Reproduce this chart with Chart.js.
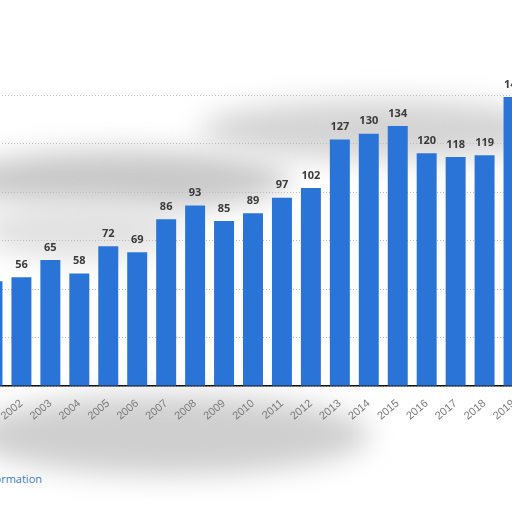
<!DOCTYPE html>
<html>
<head>
<meta charset="utf-8">
<script src="https://cdn.jsdelivr.net/npm/chart.js@4/dist/chart.umd.min.js"></script>
<style>
  html, body { margin: 0; padding: 0; width: 512px; height: 512px; overflow: hidden; background: #fff; font-family: "Open Sans", "DejaVu Sans", sans-serif; }
  .smudge { position: absolute; filter: blur(14px); border-radius: 50%; }
  .wrap { position: absolute; left: -52.5px; top: 0; width: 580px; height: 426px; }
  .info { position: absolute; right: 470px; top: 471px; font-size: 11px; color: #3b7bbf; white-space: nowrap; }
</style>
</head>
<body>
<!-- grey background smudges -->
<div class="smudge" style="left:-40px;top:150px;width:330px;height:60px;background:#c9c9c9;"></div>
<div class="smudge" style="left:200px;top:100px;width:360px;height:60px;background:#d4d4d4;"></div>
<div class="smudge" style="left:-30px;top:395px;width:400px;height:80px;background:#cfcfcf;"></div>
<div class="smudge" style="left:-20px;top:200px;width:200px;height:60px;background:#e2e2e2;"></div>

<div class="wrap"><canvas id="myChart"></canvas></div>
<div class="info">Additional Information</div>

<script>
// Chart data

const years = ["2001", "2002", "2003", "2004", "2005", "2006", "2007", "2008", "2009", "2010",
  "2011", "2012", "2013", "2014", "2015", "2016", "2017", "2018", "2019"];
const values = [54, 56, 65, 58, 72, 69, 86, 93, 85, 89, 97, 102, 127, 130, 134, 120, 118, 119, 149];
const gridStep = 25;

// value labels on top of the bars
const barLabels = {
  id: 'barLabels',
  afterDatasetsDraw(chart) {
    const ctx = chart.ctx;
    const meta = chart.getDatasetMeta(0);
    ctx.save();
    ctx.font = 'bold 11px "Open Sans", "DejaVu Sans", sans-serif';
    ctx.fillStyle = '#3a3a3a';
    ctx.textAlign = 'center';
    ctx.textBaseline = 'bottom';
    meta.data.forEach((bar, i) => {
      ctx.fillText(values[i], bar.x, bar.y - 7);
    });
    ctx.restore();
  }
};

const ctx = document.getElementById("myChart").getContext("2d");
const myChart = new Chart(ctx, {
  type: "bar",
  data: {
    labels: years,
    datasets: [{
      data: values,
      backgroundColor: '#2a74d8',
      borderWidth: 0,
      barPercentage: 0.69,
      categoryPercentage: 1,
    }],
  },
  options: {
    responsive: true,
    maintainAspectRatio: false,
    animation: false,
    layout: { padding: { top: 95, left: 30, right: 0, bottom: 0 } },
    plugins: { legend: { display: false }, tooltip: { enabled: false } },
    scales: {
      x: {
        afterFit: (s) => { s.height = 40; },
        grid: { display: false },
        border: { color: '#111', width: 1.5 },
        ticks: {
          color: '#7a7a7a',
          font: { size: 11 },
          minRotation: 40,
          maxRotation: 40,
          autoSkip: false,
        },
      },
      y: {
        min: 0,
        max: 150,
        afterFit: (s) => { s.width = 0; },
        border: { display: false, dash: [1, 2] },
        grid: { color: '#bdbdbd', lineWidth: 1, drawTicks: false },
        ticks: { display: false, stepSize: gridStep },
      },
    },
  },
  plugins: [barLabels],
});
</script>
</body>
</html>
